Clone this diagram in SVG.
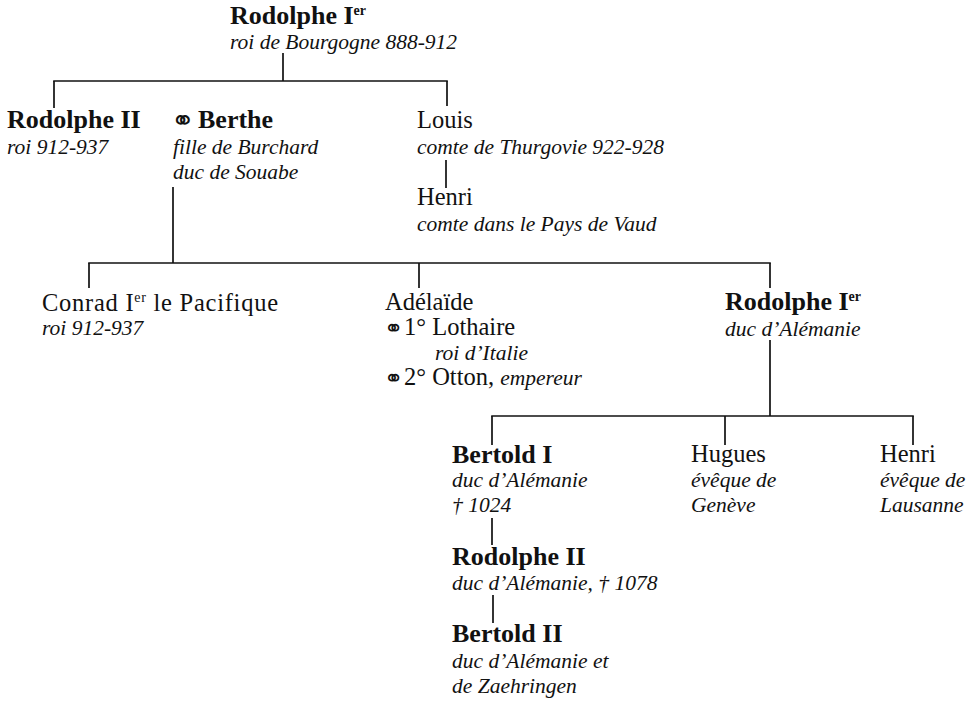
<svg xmlns="http://www.w3.org/2000/svg" width="971" height="701" viewBox="0 0 971 701">
<style>
text{font-family:"Liberation Serif","Times New Roman",serif;fill:#111}
.b{font-weight:bold;font-size:26px}
.r{font-size:24.5px}
.i{font-style:italic;font-size:21.5px}
.sym{font-family:"DejaVu Sans",sans-serif;font-size:28px;font-weight:normal;font-style:normal}
.sym2{font-family:"DejaVu Sans",sans-serif;font-size:23px}
.sup{font-size:14px}
#connectors line{stroke:#111;stroke-width:1.7;fill:none}
</style>
<rect width="971" height="701" fill="#fff"/>
<g id="connectors">
<line x1="283" y1="53" x2="283" y2="81"/>
<line x1="53.2" y1="81" x2="447.8" y2="81"/>
<line x1="54" y1="81" x2="54" y2="108"/>
<line x1="447" y1="81" x2="447" y2="106"/>
<line x1="446" y1="160" x2="446" y2="188"/>
<line x1="173" y1="187" x2="173" y2="263"/>
<line x1="88.2" y1="263" x2="770.8" y2="263"/>
<line x1="89" y1="263" x2="89" y2="288"/>
<line x1="419" y1="263" x2="419" y2="288"/>
<line x1="770" y1="263" x2="770" y2="288"/>
<line x1="770" y1="340" x2="770" y2="416"/>
<line x1="491.2" y1="416" x2="913.8" y2="416"/>
<line x1="492" y1="416" x2="492" y2="445"/>
<line x1="725" y1="416" x2="725" y2="445"/>
<line x1="913" y1="416" x2="913" y2="445"/>
<line x1="492" y1="518" x2="492" y2="545"/>
<line x1="493" y1="595" x2="493" y2="623"/>
</g>
<g id="rodolphe1-bourgogne">
<text class="b" x="230" y="24">Rodolphe I<tspan class="sup" dy="-9">er</tspan></text>
<text class="i" x="230" y="49">roi de Bourgogne 888-912</text>
</g>
<g id="rodolphe2-roi">
<text class="b" x="7" y="128">Rodolphe II</text>
<text class="i" x="7" y="154">roi 912-937</text>
</g>
<g id="berthe">
<text class="b" x="171" y="128"><tspan class="sym" dy="2">⚭</tspan><tspan x="198" dy="-2">Berthe</tspan></text>
<text class="i" x="173" y="154">fille de Burchard</text>
<text class="i" x="173" y="179">duc de Souabe</text>
</g>
<g id="louis">
<text class="r" x="417" y="128">Louis</text>
<text class="i" x="417" y="154">comte de Thurgovie 922-928</text>
</g>
<g id="henri-vaud">
<text class="r" x="417" y="205">Henri</text>
<text class="i" x="417" y="231">comte dans le Pays de Vaud</text>
</g>
<g id="conrad">
<text class="r" x="42" y="311" textLength="236">Conrad I<tspan class="sup" dy="-9">er</tspan><tspan dy="9"> le Pacifique</tspan></text>
<text class="i" x="42" y="335">roi 912-937</text>
</g>
<g id="adelaide">
<text class="r" x="385" y="310">Adélaïde</text>
<text class="r" x="384" y="335"><tspan class="sym2" dy="1">⚭</tspan><tspan x="404" dy="-1">1° Lothaire</tspan></text>
<text class="i" x="435" y="360">roi d’Italie</text>
<text class="r" x="384" y="385"><tspan class="sym2" dy="1">⚭</tspan><tspan x="404" dy="-1">2° Otton, </tspan><tspan class="i">empereur</tspan></text>
</g>
<g id="rodolphe1-alemanie">
<text class="b" x="725" y="310">Rodolphe I<tspan class="sup" dy="-9">er</tspan></text>
<text class="i" x="725" y="336">duc d’Alémanie</text>
</g>
<g id="bertold1">
<text class="b" x="452" y="463">Bertold I</text>
<text class="i" x="452" y="487">duc d’Alémanie</text>
<text class="i" x="452" y="512">† 1024</text>
</g>
<g id="hugues">
<text class="r" x="691" y="462">Hugues</text>
<text class="i" x="691" y="487">évêque de</text>
<text class="i" x="691" y="512">Genève</text>
</g>
<g id="henri-lausanne">
<text class="r" x="880" y="462">Henri</text>
<text class="i" x="880" y="487">évêque de</text>
<text class="i" x="880" y="512">Lausanne</text>
</g>
<g id="rodolphe2-alemanie">
<text class="b" x="452" y="565">Rodolphe II</text>
<text class="i" x="452" y="590">duc d’Alémanie, † 1078</text>
</g>
<g id="bertold2">
<text class="b" x="452" y="642">Bertold II</text>
<text class="i" x="452" y="668">duc d’Alémanie et</text>
<text class="i" x="452" y="693">de Zaehringen</text>
</g>
</svg>
